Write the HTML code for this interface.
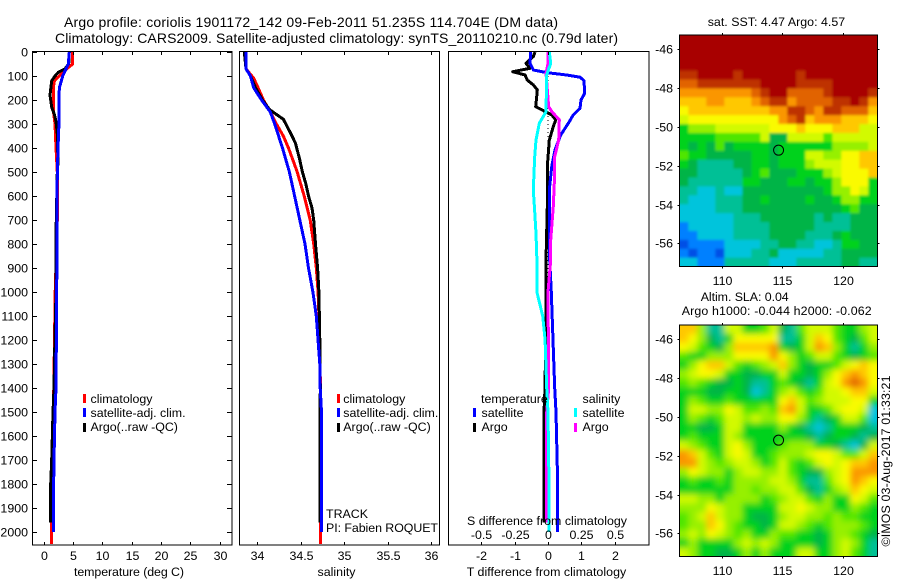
<!DOCTYPE html>
<html lang="en">
<head>
<meta charset="utf-8">
<title>Argo profile</title>
<style>
html,body{margin:0;padding:0;background:#fff;}
svg{display:block;}
text{font-family:"Liberation Sans",sans-serif;font-size:12.4px;fill:#000;}
.t{font-size:14px;}
.m{text-anchor:middle;}
.e{text-anchor:end;}
</style>
</head>
<body>
<svg id="chart" xmlns="http://www.w3.org/2000/svg" width="900" height="580" viewBox="0 0 900 580">
  <defs>
    <filter id="softA" x="-5%" y="-5%" width="110%" height="110%"><feGaussianBlur stdDeviation="1.2"/></filter>
    <filter id="softB" x="-5%" y="-5%" width="110%" height="110%"><feGaussianBlur stdDeviation="3.2"/></filter>
    <clipPath id="clipMapA"><rect x="679.3" y="35" width="198" height="231.7"/></clipPath>
    <clipPath id="clipMapB"><rect x="679.3" y="325" width="198" height="231.7"/></clipPath>
  </defs>
  <rect width="900" height="580" fill="#fff"/>
  <text class="t" x="64" y="27" textLength="494">Argo profile: coriolis 1901172_142 09-Feb-2011 51.235S 114.704E (DM data)</text>
  <text class="t" x="55" y="43" textLength="563">Climatology: CARS2009. Satellite-adjusted climatology: synTS_20110210.nc (0.79d later)</text>

  <g id="marks"></g>
  <g id="axes"></g>

  <text x="74" y="576" textLength="110">temperature (deg C)</text>
  <text x="317.5" y="576" textLength="38">salinity</text>
  <text x="466.7" y="576" textLength="159.5">T difference from climatology</text>
  <text x="467" y="525" textLength="160">S difference from climatology</text>

  <g>
    <rect x="83" y="394" width="3" height="9" fill="#f00"/>
    <text x="90.5" y="403">climatology</text>
    <rect x="83" y="408" width="3" height="9" fill="#00f"/>
    <text x="90.5" y="417">satellite-adj. clim.</text>
    <rect x="83" y="423" width="3" height="9" fill="#000"/>
    <text x="90.5" y="431">Argo(..raw -QC)</text>
  </g>
  <g>
    <rect x="337" y="394" width="3" height="9" fill="#f00"/>
    <text x="343.3" y="403">climatology</text>
    <rect x="337" y="408" width="3" height="9" fill="#00f"/>
    <text x="343.3" y="417">satellite-adj. clim.</text>
    <rect x="337" y="423" width="3" height="9" fill="#000"/>
    <text x="343.3" y="431">Argo(..raw -QC)</text>
    <text x="326" y="518">TRACK</text>
    <text x="326" y="532" textLength="112">PI: Fabien ROQUET</text>
  </g>
  <g>
    <text x="481" y="403">temperature</text>
    <rect x="473" y="408" width="3" height="9" fill="#00f"/>
    <text x="481.5" y="417">satellite</text>
    <rect x="473" y="423" width="3" height="9" fill="#000"/>
    <text x="481.5" y="431">Argo</text>
    <text x="582.5" y="403">salinity</text>
    <rect x="574" y="408" width="3" height="9" fill="#0ff"/>
    <text x="582.5" y="417">satellite</text>
    <rect x="574" y="423" width="3" height="9" fill="#f0f"/>
    <text x="582.5" y="431">Argo</text>
  </g>

  <g id="mapA"></g>
  <g id="mapB"></g>

  <text x="707.7" y="26" textLength="137.5">sat. SST: 4.47 Argo: 4.57</text>
  <text x="700.7" y="301" textLength="88">Altim. SLA: 0.04</text>
  <text x="681.7" y="315" textLength="190">Argo h1000: -0.044 h2000: -0.062</text>
  <text transform="translate(890,546.5) rotate(-90)" textLength="171">©IMOS 03-Aug-2017 01:33:21</text>
</svg>
<script>
/* ---------- axis labels ---------- */
const depthTicks = [0,100,200,300,400,500,600,700,800,900,1000,1100,1200,1300,1400,1500,1600,1700,1800,1900,2000];
const tempTicks = [0,5,10,15,20,25,30];
const salTicks = [34,34.5,35,35.5,36];
const salTickLabels = ['34','34.5','35','35.5','36'];
const dTempTicks = [-2,-1,0,1,2];
const dSalTicks = [-0.5,-0.25,0,0.25,0.5];
const dSalTickLabels = ['-0.5','-0.25','0','0.25','0.5'];
const lonTicks = [110,115,120];
const latTicks = [-46,-48,-50,-52,-54,-56];

/* ---------- temperature profiles ---------- */
const climTempDepth = [0,50,70,100,120,150,200,250,300,400,500,700,1000,1400,1700,2050];
const climTempValue = [4.97,4.97,3.95,2.7,1.85,1.67,1.67,1.7,1.96,2.13,2.35,2.35,2.0,1.75,1.45,1.33];
const argoTempDepth = [0,50,70,85,100,120,180,230,260,290,340,460,500,760,1000,1200,1400,1500,1700,1800,1960];
const argoTempValue = [4.4,4.3,3.66,2.5,1.96,1.4,1.1,1.4,1.85,2.13,2.35,2.47,2.35,2.13,2.13,1.95,1.79,1.62,1.4,1.22,1.22];
const satTempDepth = [0,50,100,150,200,300,340,500,1000,1400,1500,1700,1900,2000];
const satTempValue = [4.4,4.23,3.27,2.7,2.66,2.64,2.55,2.35,2.25,2.13,1.96,1.79,1.67,1.67];

/* ---------- salinity profiles ---------- */
const climSalDepth = [0,70,110,150,200,250,300,350,400,450,500,600,700,800,900,1000,1200,1500,2050];
const climSalValue = [33.85,33.87,33.96,34.01,34.07,34.15,34.22,34.3,34.36,34.41,34.46,34.54,34.61,34.65,34.68,34.7,34.72,34.73,34.726];
const argoSalDepth = [0,70,100,150,200,240,260,280,300,350,380,450,500,550,600,650,700,800,900,1000,1200,1400,1680,1960];
const argoSalValue = [33.85,33.87,33.92,33.98,34.06,34.14,34.22,34.3,34.33,34.4,34.44,34.49,34.52,34.56,34.59,34.63,34.65,34.67,34.695,34.71,34.72,34.726,34.72,34.72];
const satSalDepth = [0,70,100,150,200,250,300,400,500,600,700,800,900,1000,1100,1300,1400,1500,2000];
const satSalValue = [33.87,33.87,33.92,33.96,34.05,34.15,34.2,34.29,34.37,34.43,34.49,34.55,34.59,34.64,34.68,34.72,34.725,34.74,34.74];

/* ---------- difference profiles ---------- */
const diffZeroDepth = [0,2000];
const diffZeroValue = [0,0];
const dTempArgoDepth = [0,19,47,68,82,96,117,137,158,186,228,244,262,283,311,367,478,575,867,1200,1400,1500,1650,1960];
const dTempArgoValue = [-0.39,-0.44,-0.66,-0.54,-1.06,-0.69,-0.62,-0.44,-0.32,-0.34,-0.37,-0.14,0.11,0.23,0.16,0.04,-0.02,-0.01,-0.06,-0.07,-0.09,-0.12,-0.12,-0.12];
const dTempSatDepth = [0,47,75,86,96,105,119,172,200,235,262,297,346,408,478,575,867,1000,1200,1400,1500,1800,2000];
const dTempSatValue = [-0.52,-0.54,-0.44,-0.04,0.56,0.96,1.08,1.1,0.99,0.96,0.76,0.61,0.38,0.21,0.11,0.04,0.05,0.1,0.15,0.2,0.24,0.29,0.29];
const dSalArgoDepth = [0,47,89,228,249,283,367,436,506,644,783,867,1000,1400,1500,1960];
const dSalArgoValue = [0,0,-0.015,0.005,0.03,0.085,0.08,0.05,0.05,0.04,0.02,0.02,0,0.005,-0.01,-0.01];
const dSalSatDepth = [0,47,96,249,297,367,436,575,644,756,867,1000,1100,1200,1400,1500,1800,2000];
const dSalSatValue = [0.01,0.02,-0.01,-0.015,-0.065,-0.09,-0.1,-0.11,-0.102,-0.09,-0.083,-0.083,-0.04,-0.022,-0.01,0,0.0075,0.0075];

/* ---------- map grids (colour level 0..14, north to south) ---------- */
const sstRows = [
[14,14,14,14,14,14,14,14,14,14,14,14,14,14,14,14,14,14,14,14,14,14],
[14,14,14,14,14,14,14,14,14,14,14,14,14,14,14,14,14,14,14,14,14,14],
[14,14,14,14,14,14,14,14,14,14,14,14,14,14,14,14,14,14,14,14,14,14],
[14,14,14,14,14,14,14,14,14,14,14,14,14,14,14,14,14,14,14,14,14,14],
[13,13,14,14,14,14,13,14,14,14,14,14,14,13,14,14,14,14,14,14,14,14],
[12,12,13,13,13,13,13,13,13,14,14,14,14,13,13,13,13,14,14,14,14,14],
[11,11,11,11,11,11,11,11,12,13,14,14,12,12,12,12,13,14,14,14,14,13],
[10,10,10,11,11,10,10,10,11,12,13,13,11,12,12,12,12,13,13,14,13,11],
[9,10,10,10,10,10,10,10,10,10,11,11,13,13,12,11,13,13,12,12,12,10],
[8,9,9,9,9,9,9,9,9,9,9,11,12,13,10,11,11,11,10,10,10,9],
[5,7,7,7,8,8,8,8,8,8,9,9,9,10,9,9,9,10,10,10,8,8],
[5,5,5,5,6,6,6,6,6,8,4,4,8,8,8,8,6,8,8,8,8,8],
[5,4,5,4,6,4,5,5,5,5,4,5,5,5,5,5,5,7,7,7,7,8],
[6,5,5,4,4,4,4,4,5,5,4,5,5,5,8,8,7,7,9,9,10,10],
[5,4,3,3,3,3,4,4,5,5,4,5,5,5,7,8,8,8,9,9,10,10],
[4,4,3,3,3,3,3,4,5,6,4,4,4,5,5,5,7,8,9,9,9,10],
[4,3,3,3,3,3,3,5,5,4,4,4,5,5,4,5,5,7,9,9,9,5],
[3,3,2,2,3,2,2,4,4,4,4,4,4,4,4,4,5,7,7,9,8,5],
[3,2,2,2,3,3,3,4,4,5,4,4,4,4,5,4,4,5,7,7,5,5],
[2,2,2,2,3,3,3,4,4,4,4,4,4,4,4,4,4,4,5,6,4,4],
[2,2,2,2,2,2,3,3,3,4,4,4,4,4,4,3,4,3,3,4,4,4],
[1,2,2,2,2,2,3,3,3,3,4,4,4,4,4,3,3,3,3,4,4,4],
[1,1,2,2,2,2,3,3,3,3,4,4,4,4,3,3,3,4,5,4,4,4],
[0,1,1,1,1,2,2,2,2,3,3,4,4,3,3,2,2,3,5,5,4,4],
[1,0,1,1,0,2,2,2,3,3,4,2,2,2,2,2,3,3,4,4,4,4],
[2,2,1,1,1,3,3,3,3,3,2,2,2,3,3,3,3,3,4,4,3,3]
];
const slaRows = [
[10,10,7,3,3,8,8,5,5,6,8,4,3,6,8,8,8,6,5,5,7,8],
[10,9,7,4,3,5,9,9,9,9,9,3,3,5,8,10,9,6,5,4,6,8],
[9,8,6,5,4,7,10,10,10,10,11,5,4,5,8,11,10,7,5,3,5,7],
[6,5,5,7,7,7,9,9,9,9,11,9,7,5,6,8,8,6,5,4,5,6],
[5,7,9,10,10,8,6,5,6,7,8,10,7,5,4,5,5,6,8,9,10,9],
[7,8,9,9,8,5,5,4,4,5,5,8,5,5,4,5,7,9,10,11,10,9],
[6,7,6,5,4,4,5,4,3,3,5,6,5,4,3,5,8,9,11,12,11,9],
[5,5,5,4,4,5,5,4,2,3,5,7,8,6,5,6,8,8,9,10,10,8],
[5,7,6,5,5,6,5,5,5,5,5,9,10,8,6,7,8,8,8,9,9,5],
[5,8,8,7,7,9,8,6,6,7,6,10,11,8,5,5,6,8,9,9,8,2],
[5,7,6,5,6,8,8,7,8,7,7,9,9,7,5,3,4,5,8,8,6,2],
[5,5,4,4,5,8,8,5,5,5,5,7,5,4,3,2,3,5,5,5,4,3],
[5,6,5,5,5,8,7,5,5,5,5,5,5,5,4,3,4,5,5,4,3,4],
[8,7,6,5,5,8,9,7,5,5,5,6,7,7,7,5,5,4,3,2,4,8],
[11,10,8,6,5,8,9,8,5,5,6,7,7,7,8,9,9,8,6,6,8,10],
[11,11,8,7,6,7,8,8,7,5,6,8,6,5,6,8,9,8,9,10,10,11],
[7,9,8,7,7,5,7,8,8,7,7,8,6,5,4,4,7,8,9,11,11,11],
[5,6,5,5,6,5,7,7,7,7,8,8,7,5,3,3,6,8,9,11,10,9],
[5,5,5,5,5,5,7,7,6,7,7,8,8,6,4,3,5,7,8,10,9,8],
[8,8,7,7,5,7,7,7,7,5,6,7,8,8,6,5,7,5,5,9,8,6],
[7,7,7,9,8,7,7,5,5,5,5,8,8,9,8,7,7,5,5,7,6,5],
[6,7,8,10,8,7,7,5,4,4,5,7,8,8,7,7,6,7,6,6,5,5],
[6,7,7,10,9,7,6,5,5,4,5,8,8,7,6,5,6,7,7,7,6,5],
[7,8,7,9,8,7,6,7,5,5,7,6,6,5,5,4,5,7,7,6,5,4],
[5,7,5,5,5,5,7,8,7,8,7,5,5,5,5,4,5,7,8,7,5,3],
[8,7,5,5,4,4,5,7,5,7,5,5,5,8,8,5,5,7,8,6,5,3]
];
const floatPosition = [114.7,-51.2];

const palette = ['#0050e6','#0080ff','#00c4dc','#00c096','#00b446','#00d21e','#50e600','#96f000','#d2fa00','#fafa00','#ffc800','#fa9600','#e16400','#be3200','#a80000'];

/* ---------- scales ---------- */
const NS = 'http://www.w3.org/2000/svg';
const panelTop = 52, panelBottom = 545;
function yDepth(d){ return 52 + d * 0.24; }
function xTemp(v){ return 43.5 + v * 5.87; }
function xSal(v){ return 257.3 + (v - 34) * 86.8; }
function xDiffT(v){ return 548 + v * 33.33; }
function xDiffS(v){ return 548 + v * 133.3; }
function xLon(lon){ return 721.7 + (lon - 110) * 12.1; }
function yLat(lat, offset){ return 49.3 + offset + (-46 - lat) * 19.4; }

function make(tag, attrs, parent){
  const el = document.createElementNS(NS, tag);
  for (const k in attrs) el.setAttribute(k, attrs[k]);
  parent.appendChild(el);
  return el;
}
function tickLine(parent, x1, y1, x2, y2){
  const el = make('line', {x1:x1, y1:y1, x2:x2, y2:y2, stroke:'#000', 'stroke-width':1, 'shape-rendering':'crispEdges'}, parent);
  
  
}
function label(parent, x, y, str, cls){
  const el = make('text', {x:x, y:y, class:cls}, parent);
  el.textContent = str;
  
  
}
function frame(parent, x, y, w, h){
  const el = make('rect', {x:x, y:y, width:w, height:h, fill:'none', stroke:'#000', 'stroke-width':1, 'shape-rendering':'crispEdges'}, parent);
  
  
}
function drawLine(parent, depths, values, xFn, color, name, width, dash){
  const pts = depths.map((d, i) => xFn(values[i]).toFixed(1) + ',' + yDepth(d).toFixed(1)).join(' ');
  const attrs = {points:pts, fill:'none', stroke:color, 'stroke-width':width, 'stroke-linejoin':'round', 'shape-rendering':'crispEdges'};
  if (dash) attrs['stroke-dasharray'] = dash;
  const el = make('polyline', attrs, parent);
  
  
}

/* ---------- profile lines ---------- */
const marks = document.getElementById('marks');
drawLine(marks, climTempDepth, climTempValue, xTemp, '#f00', 'temperature-climatology-line', 3);
drawLine(marks, argoTempDepth, argoTempValue, xTemp, '#000', 'temperature-argo-line', 3);
drawLine(marks, satTempDepth, satTempValue, xTemp, '#00f', 'temperature-satellite-line', 3);
drawLine(marks, climSalDepth, climSalValue, xSal, '#f00', 'salinity-climatology-line', 3);
drawLine(marks, argoSalDepth, argoSalValue, xSal, '#000', 'salinity-argo-line', 3);
drawLine(marks, satSalDepth, satSalValue, xSal, '#00f', 'salinity-satellite-line', 3);
drawLine(marks, diffZeroDepth, diffZeroValue, xDiffT, '#000', 'difference-zero-line', 1, '1 3');
drawLine(marks, dTempArgoDepth, dTempArgoValue, xDiffT, '#000', 't-difference-argo-line', 3);
drawLine(marks, dTempSatDepth, dTempSatValue, xDiffT, '#00f', 't-difference-satellite-line', 3);
drawLine(marks, dSalArgoDepth, dSalArgoValue, xDiffS, '#f0f', 's-difference-argo-line', 3);
drawLine(marks, dSalSatDepth, dSalSatValue, xDiffS, '#0ff', 's-difference-satellite-line', 3);

/* ---------- profile axes ---------- */
const axes = document.getElementById('axes');
frame(axes, 32.5, panelTop - 0.5, 199.5, panelBottom - panelTop + 0.5);
frame(axes, 239.5, panelTop - 0.5, 200, panelBottom - panelTop + 0.5);
frame(axes, 448.5, panelTop - 0.5, 200.5, panelBottom - panelTop + 0.5);

depthTicks.forEach(d => {
  const y = Math.round(yDepth(d)) + 0.5;
  tickLine(axes, 32.5, y, 37, y);
  tickLine(axes, 227, y, 232, y);
  label(axes, 28, y + 4, String(d), 'e');
});
tempTicks.forEach(v => {
  const x = Math.round(xTemp(v)) + 0.5;
  tickLine(axes, x, panelTop, x, panelTop + 3);
  tickLine(axes, x, panelBottom - 3, x, panelBottom);
  label(axes, x, 560, String(v), 'm');
});
salTicks.forEach((v, i) => {
  const x = Math.round(xSal(v)) + 0.5;
  tickLine(axes, x, panelTop, x, panelTop + 3);
  tickLine(axes, x, panelBottom - 3, x, panelBottom);
  label(axes, x, 560, salTickLabels[i], 'm');
});
dTempTicks.forEach(v => {
  const x = Math.round(xDiffT(v)) + 0.5;
  tickLine(axes, x, panelTop, x, panelTop + 3);
  tickLine(axes, x, panelBottom - 3, x, panelBottom);
  label(axes, x, 560, String(v), 'm');
});
dSalTicks.forEach((v, i) => {
  const x = Math.round(xDiffS(v)) + 0.5;
  label(axes, x, 539, dSalTickLabels[i], 'm');
});

/* ---------- maps ---------- */
function drawMap(groupId, rows, offset, clipId, filterId){
  const g = document.getElementById(groupId);
  const lonStart = 106.5, lonEnd = 122.86, latStart = -45.26, latEnd = -57.2;
  const dLon = (lonEnd - lonStart) / rows[0].length;
  const dLat = (latStart - latEnd) / rows.length;
  const clip = make('g', {'clip-path':'url(#' + clipId + ')'}, g);
  
  
  const soft = make('g', {filter:'url(#' + filterId + ')'}, clip);
  
  
  rows.forEach((row, r) => {
    row.forEach((level, c) => {
      let x0 = xLon(lonStart + c * dLon), x1 = xLon(lonStart + (c + 1) * dLon);
      let y0 = yLat(latStart - r * dLat, offset), y1 = yLat(latStart - (r + 1) * dLat, offset);
      if (c === 0) x0 -= 10;
      if (c === row.length - 1) x1 += 10;
      if (r === 0) y0 -= 10;
      if (r === rows.length - 1) y1 += 10;
      const cell = make('rect', {x:x0.toFixed(2), y:y0.toFixed(2), width:(x1 - x0 + 0.4).toFixed(2), height:(y1 - y0 + 0.4).toFixed(2), fill:palette[level]}, soft);
      
      
    });
  });
  const top = yLat(latStart, offset), bottom = yLat(latEnd, offset);
  frame(g, xLon(lonStart), top, xLon(lonEnd) - xLon(lonStart), bottom - top);
  lonTicks.forEach(lon => {
    const x = Math.round(xLon(lon)) + 0.5;
    tickLine(g, x, top - 2, x, top);
    tickLine(g, x, bottom, x, bottom + 2);
    label(g, x, bottom + 18.5, String(lon), 'm');
  });
  latTicks.forEach(lat => {
    const y = Math.round(yLat(lat, offset)) + 0.5;
    tickLine(g, xLon(lonStart) - 2, y, xLon(lonStart), y);
    tickLine(g, xLon(lonEnd), y, xLon(lonEnd) + 2, y);
    label(g, 673, y + 4, String(lat), 'e');
  });
  const dot = make('circle', {cx:xLon(floatPosition[0]), cy:yLat(floatPosition[1], offset), r:5, fill:'none', stroke:'#000', 'stroke-width':1}, g);
  
  
}
drawMap('mapA', sstRows, 0, 'clipMapA', 'softA');
drawMap('mapB', slaRows, 290, 'clipMapB', 'softB');
</script>
</body>
</html>
